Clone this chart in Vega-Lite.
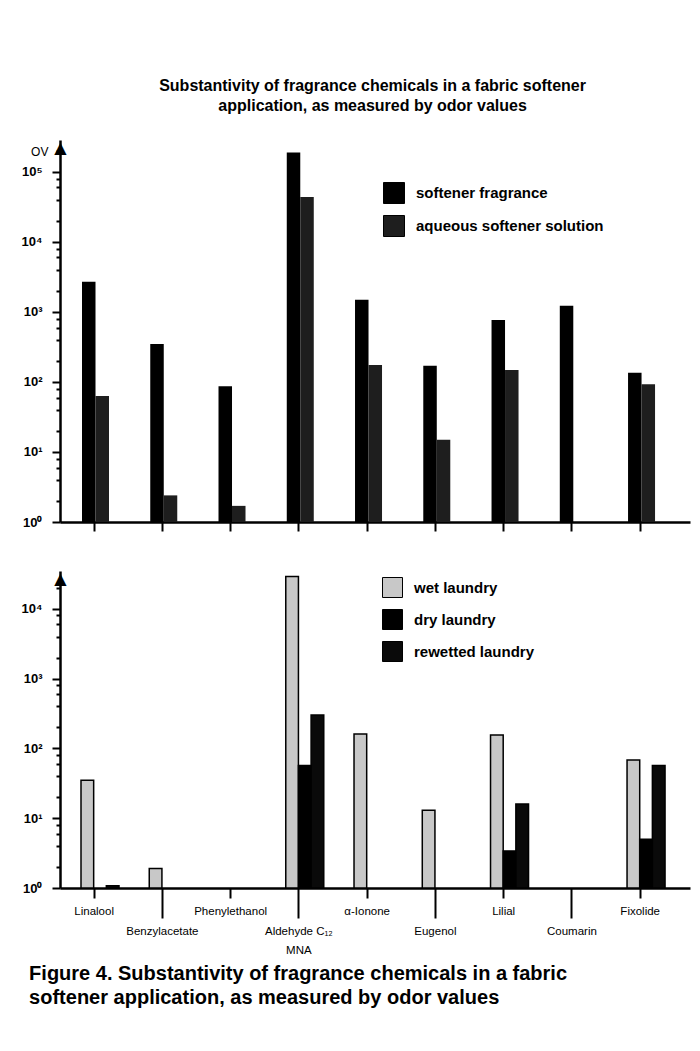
{
  "$schema": "https://vega.github.io/schema/vega-lite/v6.json",
  "background": "white",
  "padding": {"left": 21, "top": 78, "right": 8, "bottom": 10},
  "title": {
    "text": ["Substantivity of fragrance chemicals in a fabric softener", "application, as measured by odor values"],
    "font": "Liberation Sans",
    "fontSize": 16,
    "fontWeight": "bold",
    "lineHeight": 20,
    "anchor": "middle",
    "dx": 17,
    "offset": 25,
    "color": "black"
  },
  "config": {
    "view": {"stroke": null},
    "font": "Liberation Sans",
    "axis": {
      "domainColor": "black",
      "tickColor": "black",
      "labelColor": "black",
      "titleColor": "black",
      "domainWidth": 2.5,
      "tickWidth": 2,
      "grid": false
    },
    "legend": {
      "orient": "none",
      "symbolType": "square",
      "symbolStrokeColor": "black",
      "symbolStrokeWidth": 1,
      "symbolOpacity": 1,
      "labelFont": "Liberation Sans",
      "labelFontSize": 15,
      "labelFontWeight": "bold",
      "labelColor": "black",
      "labelOffset": 11,
      "labelLimit": 400,
      "rowPadding": 7,
      "padding": 0,
      "title": null
    }
  },
  "spacing": 38,
  "resolve": {
    "scale": {"color": "independent", "x": "independent", "y": "independent", "xOffset": "independent"},
    "legend": {"color": "independent"}
  },
  "vconcat": [
    {
      "width": 630,
      "height": 382,
      "title": {"text": "OV", "orient": "top", "anchor": "start", "offset": -20, "dx": 10, "fontSize": 12, "fontWeight": "normal", "color": "black", "font": "Liberation Sans"},
      "data": {
        "values": [
          {"chemical": "Linalool", "series": "softener fragrance", "ov": 2700},
          {"chemical": "Linalool", "series": "aqueous softener solution", "ov": 63},
          {"chemical": "Benzylacetate", "series": "softener fragrance", "ov": 350},
          {"chemical": "Benzylacetate", "series": "aqueous softener solution", "ov": 2.4},
          {"chemical": "Phenylethanol", "series": "softener fragrance", "ov": 87},
          {"chemical": "Phenylethanol", "series": "aqueous softener solution", "ov": 1.7},
          {"chemical": "Aldehyde C12 MNA", "series": "softener fragrance", "ov": 190000},
          {"chemical": "Aldehyde C12 MNA", "series": "aqueous softener solution", "ov": 44000},
          {"chemical": "α-Ionone", "series": "softener fragrance", "ov": 1500},
          {"chemical": "α-Ionone", "series": "aqueous softener solution", "ov": 175},
          {"chemical": "Eugenol", "series": "softener fragrance", "ov": 170},
          {"chemical": "Eugenol", "series": "aqueous softener solution", "ov": 15},
          {"chemical": "Lilial", "series": "softener fragrance", "ov": 770},
          {"chemical": "Lilial", "series": "aqueous softener solution", "ov": 148},
          {"chemical": "Coumarin", "series": "softener fragrance", "ov": 1230},
          {"chemical": "Fixolide", "series": "softener fragrance", "ov": 135},
          {"chemical": "Fixolide", "series": "aqueous softener solution", "ov": 93}
        ]
      },
      "mark": {"type": "bar"},
      "encoding": {
        "x": {
          "field": "chemical",
          "type": "nominal",
          "scale": {
            "domain": ["Linalool", "Benzylacetate", "Phenylethanol", "Aldehyde C12 MNA", "α-Ionone", "Eugenol", "Lilial", "Coumarin", "Fixolide"],
            "paddingInner": 0,
            "paddingOuter": 0.115,
            "align": 0
          },
          "axis": {"title": null, "labels": false, "tickSize": 9}
        },
        "xOffset": {
          "field": "series",
          "type": "nominal",
          "scale": {"domain": ["softener fragrance", "aqueous softener solution"], "range": [22, 49], "paddingInner": 0, "paddingOuter": 0}
        },
        "y": {
          "field": "ov",
          "type": "quantitative",
          "stack": null,
          "scale": {"type": "log", "domain": [1, 286000], "nice": false},
          "axis": {
            "title": "▲",
            "titleFont": "DejaVu Sans",
            "titleFontSize": 16,
            "titleFontWeight": "normal",
            "titleAngle": 0,
            "titleX": 0,
            "titleY": 12,
            "titleAlign": "center",
            "titleBaseline": "alphabetic",
            "values": [1, 2, 4, 6, 8, 10, 20, 40, 60, 80, 100, 200, 400, 600, 800, 1000, 2000, 4000, 6000, 8000, 10000, 20000, 40000, 60000, 80000, 100000, 200000],
            "labelExpr": "indexof([1,10,100,1000,10000,100000], datum.value) >= 0 ? '10' + ['⁰','¹','²','³','⁴','⁵'][indexof([1,10,100,1000,10000,100000], datum.value)] : ''",
            "tickSize": {"condition": {"test": "indexof([1,10,100,1000,10000,100000], datum.value) >= 0", "value": 8}, "value": 4},
            "labelPadding": 10,
            "labelFont": "Liberation Sans",
            "labelFontSize": 13,
            "labelFontWeight": "bold",
            "labelOverlap": false
          }
        },
        "y2": {"datum": 1},
        "color": {
          "field": "series",
          "type": "nominal",
          "scale": {"domain": ["softener fragrance", "aqueous softener solution"], "range": ["#000000", "#1e1e1e"]},
          "legend": {"legendX": 323, "legendY": 42, "symbolSize": 441}
        }
      }
    },
    {
      "width": 630,
      "height": 317,
      "title": {
        "text": ["Figure 4. Substantivity of fragrance chemicals in a fabric", "softener application, as measured by odor values"],
        "orient": "bottom",
        "anchor": "start",
        "font": "Liberation Sans",
        "fontSize": 20,
        "fontWeight": "bold",
        "lineHeight": 24,
        "offset": 8,
        "dx": 8,
        "color": "black"
      },
      "data": {
        "values": [
          {"chemical": "Linalool", "series": "wet laundry", "ov": 35},
          {"chemical": "Linalool", "series": "rewetted laundry", "ov": 1.08},
          {"chemical": "Benzylacetate", "series": "wet laundry", "ov": 1.9},
          {"chemical": "Aldehyde C12 MNA", "series": "wet laundry", "ov": 29000},
          {"chemical": "Aldehyde C12 MNA", "series": "dry laundry", "ov": 57},
          {"chemical": "Aldehyde C12 MNA", "series": "rewetted laundry", "ov": 300},
          {"chemical": "α-Ionone", "series": "wet laundry", "ov": 160},
          {"chemical": "Eugenol", "series": "wet laundry", "ov": 13},
          {"chemical": "Lilial", "series": "wet laundry", "ov": 155},
          {"chemical": "Lilial", "series": "dry laundry", "ov": 3.4},
          {"chemical": "Lilial", "series": "rewetted laundry", "ov": 16},
          {"chemical": "Fixolide", "series": "wet laundry", "ov": 68},
          {"chemical": "Fixolide", "series": "dry laundry", "ov": 5},
          {"chemical": "Fixolide", "series": "rewetted laundry", "ov": 57}
        ]
      },
      "mark": {"type": "bar", "stroke": "black", "strokeWidth": 1.5},
      "encoding": {
        "x": {
          "field": "chemical",
          "type": "nominal",
          "scale": {
            "domain": ["Linalool", "Benzylacetate", "Phenylethanol", "Aldehyde C12 MNA", "α-Ionone", "Eugenol", "Lilial", "Coumarin", "Fixolide"],
            "paddingInner": 0,
            "paddingOuter": 0.115,
            "align": 0
          },
          "axis": {
            "title": null,
            "labelAngle": 0,
            "labelOverlap": false,
            "labelFont": "Liberation Sans",
            "labelFontSize": 11.5,
            "labelLineHeight": 19,
            "labelPadding": 7,
            "labelExpr": "datum.value == 'Aldehyde C12 MNA' ? ['Aldehyde C₁₂', 'MNA'] : datum.value",
            "tickSize": {"condition": {"test": "indexof(['Benzylacetate','Aldehyde C12 MNA','Eugenol','Coumarin'], datum.value) >= 0", "value": 30}, "value": 10}
          }
        },
        "xOffset": {
          "field": "series",
          "type": "nominal",
          "scale": {"domain": ["wet laundry", "dry laundry", "rewetted laundry"], "range": [21, 59], "paddingInner": 0, "paddingOuter": 0}
        },
        "y": {
          "field": "ov",
          "type": "quantitative",
          "stack": null,
          "scale": {"type": "log", "domain": [1, 34700], "nice": false},
          "axis": {
            "title": "▲",
            "titleFont": "DejaVu Sans",
            "titleFontSize": 16,
            "titleFontWeight": "normal",
            "titleAngle": 0,
            "titleX": 0,
            "titleY": 12,
            "titleAlign": "center",
            "titleBaseline": "alphabetic",
            "values": [1, 2, 4, 6, 8, 10, 20, 40, 60, 80, 100, 200, 400, 600, 800, 1000, 2000, 4000, 6000, 8000, 10000, 20000],
            "labelExpr": "indexof([1,10,100,1000,10000], datum.value) >= 0 ? '10' + ['⁰','¹','²','³','⁴'][indexof([1,10,100,1000,10000], datum.value)] : ''",
            "tickSize": {"condition": {"test": "indexof([1,10,100,1000,10000], datum.value) >= 0", "value": 8}, "value": 4},
            "labelPadding": 10,
            "labelFont": "Liberation Sans",
            "labelFontSize": 13,
            "labelFontWeight": "bold",
            "labelOverlap": false
          }
        },
        "y2": {"datum": 1},
        "color": {
          "field": "series",
          "type": "nominal",
          "scale": {"domain": ["wet laundry", "dry laundry", "rewetted laundry"], "range": ["#c8c8c8", "#000000", "#0a0a0a"]},
          "legend": {"legendX": 322, "legendY": 6, "symbolSize": 400}
        }
      }
    }
  ]
}
